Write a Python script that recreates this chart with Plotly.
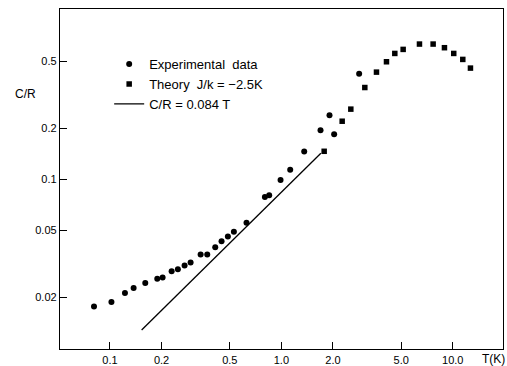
import plotly.graph_objects as go

# Measured specific heat (circles)
exp_T = [0.0807, 0.102, 0.1223, 0.1374, 0.1607, 0.1888, 0.2028, 0.229, 0.249,
         0.2725, 0.2954, 0.338, 0.3694, 0.4113, 0.4477, 0.4875, 0.5284, 0.626,
         0.8014, 0.849, 0.989, 1.126, 1.359, 1.692, 1.909, 2.032, 2.843]
exp_C = [0.0177, 0.01885, 0.0213, 0.0228, 0.0244, 0.0258, 0.0263, 0.0286, 0.0294,
         0.0309, 0.0322, 0.0359, 0.0359, 0.0397, 0.0431, 0.0460, 0.0490, 0.0554,
         0.0786, 0.0804, 0.0991, 0.1141, 0.1459, 0.1951, 0.2394, 0.1848, 0.4207]

# Theoretical curve for J/k = -2.5 K (squares)
th_T = [1.777, 2.263, 2.542, 3.068, 3.588, 4.104, 4.59, 5.134, 6.393, 7.68,
        8.942, 10.13, 11.44, 12.68]
th_C = [0.1465, 0.2206, 0.260, 0.349, 0.4303, 0.4955, 0.555, 0.5864, 0.6306,
        0.6306, 0.600, 0.555, 0.5116, 0.4546]

# Linear low-temperature law C/R = 0.084 T
lin_coef = 0.084
lin_T = [0.153, 1.70]
lin_C = [lin_coef * t for t in lin_T]

x_ticks = [0.1, 0.2, 0.5, 1.0, 2.0, 5.0, 10.0]
x_labels = ["0.1", "0.2", "0.5", "1.0", "2.0", "5.0", "10.0"]
y_ticks = [0.02, 0.05, 0.1, 0.2, 0.5]
y_labels = ["0.02", "0.05", "0.1", "0.2", "0.5"]

FONT = "Liberation Sans"

fig = go.Figure()
fig.add_trace(go.Scatter(
    x=exp_T, y=exp_C, mode="markers", name="Experimental  data",
    marker=dict(symbol="circle", size=6, color="black"),
))
fig.add_trace(go.Scatter(
    x=th_T, y=th_C, mode="markers", name="Theory  J/k = \u22122.5K",
    marker=dict(symbol="square", size=5.5, color="black"),
))
fig.add_trace(go.Scatter(
    x=lin_T, y=lin_C, mode="lines", name="C/R = 0.084 T",
    line=dict(color="black", width=1.3),
))

axis_common = dict(
    type="log", showgrid=False, zeroline=False, automargin=False,
    showline=True, linecolor="black", linewidth=1.3, mirror=True,
    ticks="inside", ticklen=7, tickwidth=1.2, tickcolor="black",
    tickfont=dict(family=FONT, size=11, color="black"),
)

fig.update_xaxes(range=[-1.2915, 1.293], tickvals=x_ticks, ticktext=x_labels,
                 ticklabelstandoff=1, **axis_common)
fig.update_yaxes(range=[-2.003, 0.007], tickvals=y_ticks, ticktext=y_labels,
                 **axis_common)

fig.add_annotation(text="C/R", xref="paper", yref="paper", x=-0.106, y=0.75,
                   xanchor="left", yanchor="middle", showarrow=False,
                   font=dict(family=FONT, size=12, color="black"))
fig.add_annotation(text="T(K)", xref="paper", yref="paper", x=0.948, y=-0.03,
                   xanchor="left", yanchor="middle", showarrow=False,
                   font=dict(family=FONT, size=12, color="black"))

fig.update_layout(
    width=507, height=366,
    margin=dict(l=60, r=4, t=9, b=17),
    paper_bgcolor="white", plot_bgcolor="white",
    font=dict(family=FONT, color="black"),
    showlegend=True,
    legend=dict(x=0.111, y=0.882, xanchor="left", yanchor="top",
                bgcolor="rgba(0,0,0,0)", itemwidth=30,
                font=dict(family=FONT, size=13, color="black"),
                tracegroupgap=0),
)

fig.write_html("out.html")
